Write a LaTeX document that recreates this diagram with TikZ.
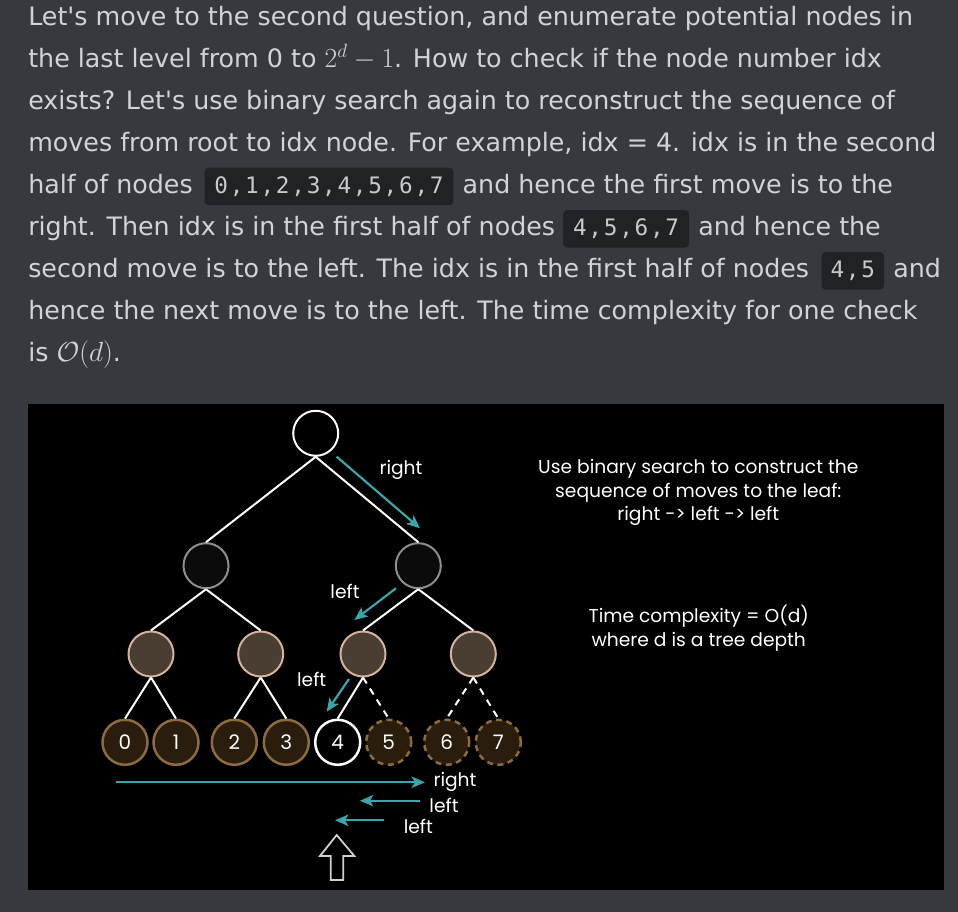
\documentclass[tikz,border=0pt]{standalone}
\usepackage{fontspec}
\setmainfont{DejaVu Sans}
\newfontfamily\monofont{DejaVu Sans Mono}
\newfontfamily\comicfont{Poppins}
\usetikzlibrary{arrows.meta}
\definecolor{bg}{HTML}{36393E}
\definecolor{txt}{HTML}{D2D3D5}
\definecolor{codebg}{HTML}{202225}
\definecolor{codetxt}{HTML}{C8C9CB}
\definecolor{teal}{HTML}{3AA6A9}
\definecolor{lvtwo}{HTML}{8E8E8E}
\definecolor{lvtwofill}{HTML}{0B0B0B}
\definecolor{lvthree}{HTML}{D4B39A}
\definecolor{lvthreefill}{HTML}{4A3E33}
\definecolor{leafdraw}{HTML}{8C6C3E}
\definecolor{leaffill}{HTML}{2A1D0E}
\definecolor{uparrow}{HTML}{D0D0D0}
\newdimen\pxu \pxu=0.75pt
\newcommand\monospaced[1]{\monoloop#1\relax}
\def\monoloop#1{\ifx#1\relax\else\makebox[15.4\pxu]{#1}\expandafter\monoloop\fi}
\newcommand\bodyfont{\fontsize{19pt}{23pt}\selectfont}
\newcommand\mathbig{\fontsize{22pt}{26pt}\selectfont}
\newcommand\codefont{\monofont\fontsize{17pt}{19pt}\selectfont}
\begin{document}
\begin{tikzpicture}[x=0.75pt,y=-0.75pt,
  bodytext/.style={anchor=base west,inner sep=0pt,text=txt,font=\bodyfont},
  codebox/.style={fill=codebg,rounded corners=4\pxu,inner sep=0pt,text=codetxt,
    font=\codefont,minimum height=37.5\pxu},
  rootnode/.style={circle,draw=white,fill=black,line width=2\pxu,minimum size=45\pxu,inner sep=0pt},
  lvtwonode/.style={circle,draw=lvtwo,fill=lvtwofill,line width=2\pxu,minimum size=45\pxu,inner sep=0pt},
  lvthreenode/.style={circle,draw=lvthree,fill=lvthreefill,line width=2\pxu,minimum size=45\pxu,inner sep=0pt},
  leafnode/.style={circle,draw=leafdraw,fill=leaffill,line width=2.5\pxu,minimum size=45\pxu,inner sep=0pt,
    text=white,font=\comicfont\fontsize{15pt}{17pt}\selectfont},
  leafdash/.style={leafnode,dash pattern=on 6\pxu off 4.5\pxu},
  leaffour/.style={leafnode,draw=white,fill=black},
  edge/.style={draw=white,line width=2\pxu},
  dashedge/.style={edge,dash pattern=on 7\pxu off 6\pxu},
  movearrow/.style={draw=teal,line width=2.2\pxu,-{Stealth[length=10pt,width=8.5pt,inset=2.5pt]}},
  movelabel/.style={text=white,inner sep=0pt,font=\comicfont\fontsize{14pt}{16pt}\selectfont},
  sidetext/.style={text=white,inner sep=0pt,align=center,font=\comicfont\fontsize{14pt}{17.6pt}\selectfont}
]
\fill[bg] (0,0) rectangle (958,912);
\useasboundingbox (0,0) rectangle (958,912);
% ---------- paragraph ----------
\node[bodytext] (l1) at (28,26) {Let\textquotesingle s move to the second question, and enumerate potential nodes in};
\node[bodytext] (l2) at (28,68) {the last level from 0 to {\mathbig$2^d - 1$}. How to check if the node number idx};
\node[bodytext] (l3) at (28,110) {exists? Let\textquotesingle s use binary search again to reconstruct the sequence of};
\node[bodytext] (l4) at (28,152) {moves from root to idx node. For example, idx = 4. idx is in the second};
\node[bodytext] (l5a) at (28,194) {half of nodes};
\node[codebox,minimum width=248.7\pxu] (c1) at (329,186.5) {\monospaced{0,1,2,3,4,5,6,7}};
\node[bodytext] (l5b) at (462.4,194) {and hence the first move is to the};
\node[bodytext] (l6a) at (28,236) {right. Then idx is in the first half of nodes};
\node[codebox,minimum width=125.8\pxu] (c2) at (626.1,228.9) {\monospaced{4,5,6,7}};
\node[bodytext] (l6b) at (698,236) {and hence the};
\node[bodytext] (l7a) at (28,278) {second move is to the left. The idx is in the first half of nodes};
\node[codebox,minimum width=62.4\pxu] (c3) at (852.8,270.9) {\monospaced{4,5}};
\node[bodytext] (l7b) at (893,278) {and};
\node[bodytext] (l8) at (28,320) {hence the next move is to the left. The time complexity for one check};
\node[bodytext] (l9) at (28,362) {is {\mathbig$\mathcal{O}(d)$}.};
% ---------- diagram panel ----------
\fill[black] (28,404) rectangle (944,890);
% tree nodes
\node[rootnode] (r) at (315.7,433.3) {};
\node[lvtwonode] (a) at (206,565.7) {};
\node[lvtwonode] (b) at (418.3,565.7) {};
\node[lvthreenode] (c1n) at (151,654) {};
\node[lvthreenode] (c2n) at (260.7,654) {};
\node[lvthreenode] (c3n) at (363,654) {};
\node[lvthreenode] (c4n) at (473.3,654) {};
\node[leafnode] (n0) at (125,742.3) {0};
\node[leafnode] (n1) at (176,742.3) {1};
\node[leafnode] (n2) at (234.3,742.3) {2};
\node[leafnode] (n3) at (286.3,742.3) {3};
\node[leaffour] (n4) at (337.7,742.3) {4};
\node[leafdash] (n5) at (388.7,742.3) {5};
\node[leafdash] (n6) at (446.7,742.3) {6};
\node[leafdash] (n7) at (498.3,742.3) {7};
% edges
\draw[edge] (r.south) -- (a.north);
\draw[edge] (r.south) -- (b.north);
\draw[edge] (a.south) -- (c1n.north);
\draw[edge] (a.south) -- (c2n.north);
\draw[edge] (b.south) -- (c3n.north);
\draw[edge] (b.south) -- (c4n.north);
\draw[edge] (c1n.south) -- (n0.north);
\draw[edge] (c1n.south) -- (n1.north);
\draw[edge] (c2n.south) -- (n2.north);
\draw[edge] (c2n.south) -- (n3.north);
\draw[edge] (c3n.south) -- (n4.north);
\draw[dashedge] (c3n.south) -- (n5.north);
\draw[dashedge] (c4n.south) -- (n6.north);
\draw[dashedge] (c4n.south) -- (n7.north);
% move arrows in the tree
\coordinate (m1s) at (336.7,456.7); \coordinate (m1e) at (420,528.3);
\coordinate (m2s) at (396,588.3);   \coordinate (m2e) at (354.3,620);
\coordinate (m3s) at (349,679);     \coordinate (m3e) at (326.7,711.7);
\draw[movearrow] (m1s) -- (m1e);
\draw[movearrow] (m2s) -- (m2e);
\draw[movearrow] (m3s) -- (m3e);
\node[movelabel] (t1) at (401,470) {right};
\node[movelabel] (t2) at (345,591.7) {left};
\node[movelabel] (t3) at (311.7,679.3) {left};
% bottom arrows
\coordinate (b1s) at (116,782.3); \coordinate (b1e) at (425,782.3);
\coordinate (b2s) at (420,800.7); \coordinate (b2e) at (360,800.7);
\coordinate (b3s) at (384.3,820.3); \coordinate (b3e) at (335,820.3);
\draw[movearrow] (b1s) -- (b1e);
\draw[movearrow] (b2s) -- (b2e);
\draw[movearrow] (b3s) -- (b3e);
\node[movelabel] (u1) at (455,781.7) {right};
\node[movelabel] (u2) at (444,805) {left};
\node[movelabel] (u3) at (418.3,826.7) {left};
% outlined up arrow
\draw[uparrow,line width=1.8\pxu,line join=miter]
  (336.7,835) -- (354.3,856) -- (343.3,856) -- (343.3,880) -- (330.7,880) -- (330.7,856) -- (320,856) -- cycle;
% side texts
\node[sidetext] (s1) at (698.3,492.5) {Use binary search to construct the\\sequence of moves to the leaf:\\right -> left -> left};
\node[sidetext] (s2) at (698.8,628) {Time complexity = O(d)\\where d is a tree depth};
\end{tikzpicture}
\end{document}
